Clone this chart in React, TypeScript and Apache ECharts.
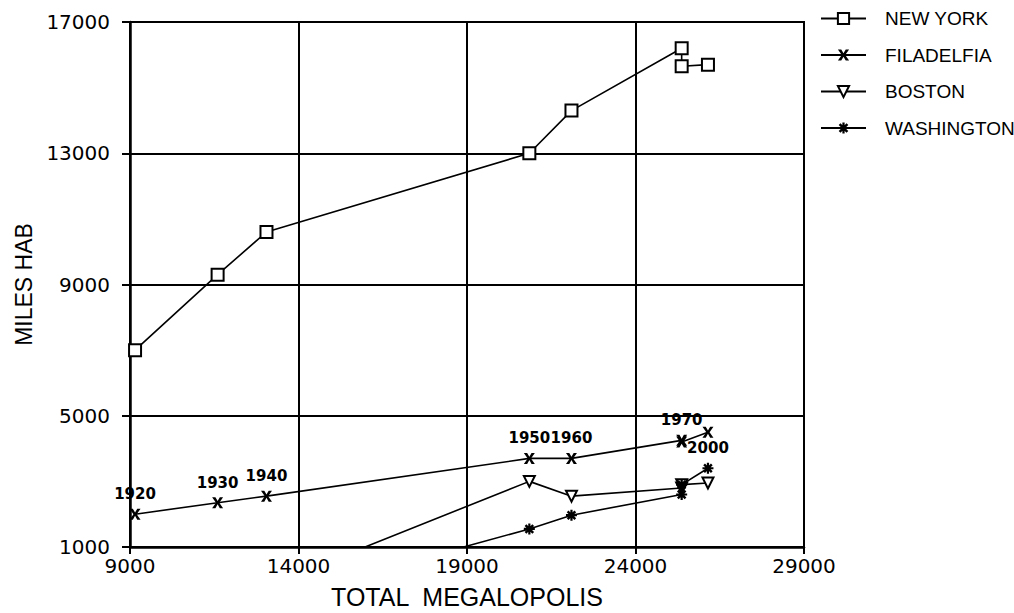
import React, { useEffect, useRef } from "react";
import * as echarts from "echarts";

const totals = [9150, 11600, 13050, 20850, 22100, 25370, 25370, 26150];
const newYork = [7000, 9300, 10600, 13000, 14300, 16200, 15650, 15700];
const filadelfia = [2000, 2350, 2550, 3700, 3700, 4250, 4200, 4500];
const boston: (number | null)[] = [null, null, -200, 3000, 2550, 2800, 2900, 2950];
const washington: (number | null)[] = [null, null, -650, 1550, 1970, 2600, 2900, 3400];
const filaLabels = ["1920", "1930", "1940", "1950", "1960", "1970", "", ""];
const washLabels = ["", "", "", "", "", "", "", "2000"];
const seriesNames = ["NEW YORK", "FILADELFIA", "BOSTON", "WASHINGTON"];
const xTicks = { min: 9000, max: 29000, interval: 5000 };
const yTicks = { min: 1000, max: 17000, interval: 4000 };

const X_SYMBOL =
  "path://M0,0 L3,0 L5,3.5 L7,0 L10,0 L6.5,5 L10,10 L7,10 L5,6.5 L3,10 L0,10 L3.5,5 Z";
const STAR_SYMBOL =
  "path://M4,0 L6,0 L6,10 L4,10 Z M0,4 L10,4 L10,6 L0,6 Z M2.28,0.72 L9.28,7.72 L7.72,9.28 L0.72,2.28 Z M7.72,0.72 L9.28,2.28 L2.28,9.28 L0.72,7.72 Z";

function build(vals: (number | null)[], labels?: string[]) {
  return vals.map((v, i) => {
    const item: any = { value: [totals[i], v === null ? "-" : v] };
    if (labels && labels[i]) {
      item.label = { show: true, formatter: labels[i] };
    }
    return item;
  });
}

const plain = (v: number) => String(v);

export default function App() {
  const ref = useRef<HTMLDivElement>(null);
  useEffect(() => {
    if (!ref.current) return;
    const chart = echarts.init(ref.current, undefined, { renderer: "svg" });
    const lineStyle = { color: "#000", width: 1.6 };
    const pointLabel = {
      position: "top",
      distance: 7,
      color: "#000",
      fontFamily: "DejaVu Sans",
      fontSize: 15,
      fontWeight: "bold",
    };
    chart.setOption({
      animation: false,
      backgroundColor: "#fff",
      grid: {
        left: 130,
        right: 210,
        top: 22,
        bottom: 66,
        show: true,
        borderColor: "#000",
        borderWidth: 2,
        containLabel: false,
        outerBoundsMode: "none",
      },
      legend: {
        orient: "vertical",
        left: 820,
        top: 9,
        padding: 0,
        itemWidth: 45,
        itemHeight: 14,
        itemGap: 17.5,
        data: seriesNames,
        textStyle: {
          color: "#000",
          fontFamily: "Liberation Sans",
          fontSize: 19,
          lineHeight: 14,
          padding: [0, 0, 0, 14],
        },
      },
      xAxis: {
        type: "value",
        min: xTicks.min,
        max: xTicks.max,
        interval: xTicks.interval,
        name: "TOTAL  MEGALOPOLIS",
        nameLocation: "middle",
        nameGap: 37,
        nameTextStyle: { color: "#000", fontFamily: "Liberation Sans", fontSize: 25 },
        axisLine: { show: true, lineStyle: { color: "#000", width: 2.5 } },
        axisTick: { show: true, length: 7, lineStyle: { color: "#000", width: 2 } },
        axisLabel: { color: "#000", fontFamily: "DejaVu Sans", fontSize: 20, margin: 9, formatter: plain },
        splitLine: { show: true, lineStyle: { color: "#000", width: 2 } },
      },
      yAxis: {
        type: "value",
        min: yTicks.min,
        max: yTicks.max,
        interval: yTicks.interval,
        name: "MILES HAB",
        nameLocation: "middle",
        nameGap: 86,
        nameTextStyle: { color: "#000", fontFamily: "Liberation Sans", fontSize: 23 },
        axisLine: { show: true, lineStyle: { color: "#000", width: 2.5 } },
        axisTick: { show: true, length: 8, lineStyle: { color: "#000", width: 2 } },
        axisLabel: { color: "#000", fontFamily: "DejaVu Sans", fontSize: 20, margin: 20, formatter: plain },
        splitLine: { show: true, lineStyle: { color: "#000", width: 2 } },
      },
      series: [
        {
          name: seriesNames[0],
          type: "line",
          data: build(newYork),
          symbol: "rect",
          symbolSize: 12,
          showAllSymbol: true,
          color: "#000",
          lineStyle,
          itemStyle: { color: "#fff", borderColor: "#000", borderWidth: 2 },
        },
        {
          name: seriesNames[1],
          type: "line",
          data: build(filadelfia, filaLabels),
          symbol: X_SYMBOL,
          symbolSize: 11,
          showAllSymbol: true,
          color: "#000",
          lineStyle,
          itemStyle: { color: "#000" },
          label: pointLabel,
        },
        {
          name: seriesNames[2],
          type: "line",
          data: build(boston),
          symbol: "triangle",
          symbolRotate: 180,
          symbolSize: 11,
          showAllSymbol: true,
          color: "#000",
          lineStyle,
          itemStyle: { color: "#fff", borderColor: "#000", borderWidth: 2 },
        },
        {
          name: seriesNames[3],
          type: "line",
          data: build(washington, washLabels),
          symbol: STAR_SYMBOL,
          symbolSize: 11,
          showAllSymbol: true,
          color: "#000",
          lineStyle,
          itemStyle: { color: "#000" },
          label: pointLabel,
        },
      ],
    });
    return () => chart.dispose();
  }, []);
  return (
    <div
      ref={ref}
      style={{ position: "fixed", left: 0, top: 0, width: 1014, height: 613, background: "#fff" }}
    />
  );
}
